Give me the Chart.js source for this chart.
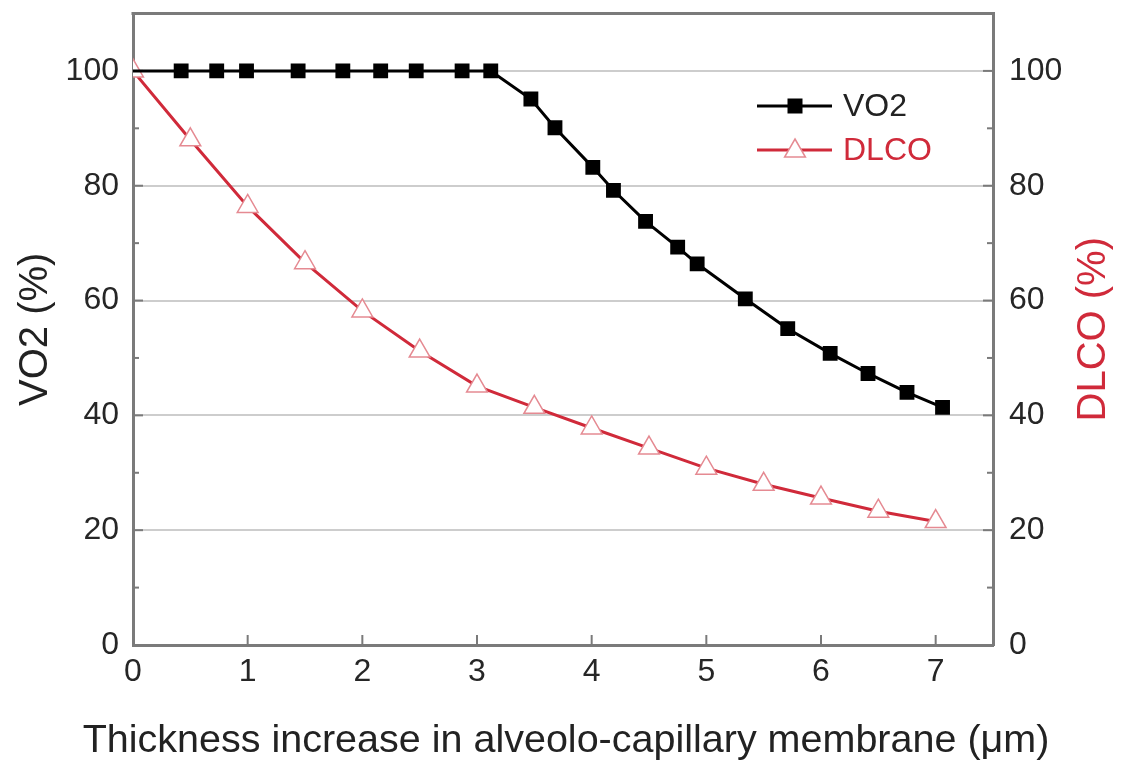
<!DOCTYPE html>
<html>
<head>
<meta charset="utf-8">
<script src="https://cdn.jsdelivr.net/npm/chart.js@4/dist/chart.umd.min.js"></script>
<style>
  html, body { margin: 0; padding: 0; background: #fff; }
  #wrap { width: 1121px; height: 762px; }
</style>
</head>
<body>
<div id="wrap"><canvas id="chart"></canvas></div>
<script>
// Thickness increase (um) and values
const vo2X = [0, 0.42, 0.73, 0.99, 1.44, 1.83, 2.16, 2.47, 2.87, 3.12, 3.47, 3.68, 4.01, 4.19, 4.47, 4.75, 4.92, 5.34, 5.71, 6.08, 6.41, 6.75, 7.06];
const vo2Y = [100, 100, 100, 100, 100, 100, 100, 100, 100, 100, 95.1, 90.1, 83.2, 79.2, 73.8, 69.3, 66.4, 60.3, 55.1, 50.8, 47.3, 44.0, 41.4];
const dlcoX = [0, 0.5, 1, 1.5, 2, 2.5, 3, 3.5, 4, 4.5, 5, 5.5, 6, 6.5, 7];
const dlcoY = [100, 88.0, 76.4, 66.6, 58.2, 51.2, 45.1, 41.4, 37.8, 34.3, 30.8, 28.0, 25.6, 23.3, 21.5];

const xTitle = 'Thickness increase in alveolo-capillary membrane (\u03bcm)';
const leftTitle = 'VO2 (%)';
const rightTitle = 'DLCO (%)';

const FONT = "'Liberation Sans', Arial, Helvetica, sans-serif";
const RED = '#d02a3a';
const PINK = '#e58a92';
const AXIS = '#7a7a7a';

function pts(xs, ys) {
    return xs.map((x, i) => ({ x: x, y: ys[i] }));
}

// frame top line, inward tick marks, legend and the x / right titles
const extras = {
    id: 'extras',
    beforeDatasetsDraw(chart) {
        const ctx = chart.ctx;
        const a = chart.chartArea;
        ctx.save();
        ctx.strokeStyle = AXIS;
        ctx.lineWidth = 3;
        ctx.beginPath();
        ctx.moveTo(a.left - 1.5, a.top);
        ctx.lineTo(a.right + 1.5, a.top);
        ctx.stroke();

        ctx.lineWidth = 2;
        const xs = chart.scales.x;
        xs.ticks.forEach(t => {
            const px = xs.getPixelForValue(t.value);
            ctx.beginPath();
            ctx.moveTo(px, a.bottom);
            ctx.lineTo(px, a.bottom - 10);
            ctx.stroke();
        });
        ['y', 'y2'].forEach(id => {
            const s = chart.scales[id];
            const edge = id === 'y' ? a.left : a.right;
            const dir = id === 'y' ? 1 : -1;
            s.ticks.forEach(t => {
                const py = s.getPixelForValue(t.value);
                ctx.beginPath();
                ctx.moveTo(edge, py);
                ctx.lineTo(edge + dir * 10, py);
                ctx.stroke();
                const my = s.getPixelForValue(t.value + 10);
                if (my > a.top + 2) {
                    ctx.beginPath();
                    ctx.moveTo(edge, my);
                    ctx.lineTo(edge + dir * 6, my);
                    ctx.stroke();
                }
            });
        });
        ctx.restore();
    },
    afterDraw(chart) {
        const ctx = chart.ctx;
        const a = chart.chartArea;
        ctx.save();

        // legend
        const lx0 = 757, lx1 = 832, mx = 795, tx = 843;
        ctx.font = '32px ' + FONT;
        ctx.textBaseline = 'middle';
        ctx.textAlign = 'left';

        let y = 106;
        ctx.strokeStyle = '#000';
        ctx.lineWidth = 3;
        ctx.beginPath(); ctx.moveTo(lx0, y); ctx.lineTo(lx1, y); ctx.stroke();
        ctx.fillStyle = '#000';
        ctx.fillRect(mx - 7.5, y - 7.5, 15, 15);
        ctx.fillStyle = '#222';
        ctx.fillText('VO2', tx, y + 1);

        y = 150;
        ctx.strokeStyle = RED;
        ctx.lineWidth = 3;
        ctx.beginPath(); ctx.moveTo(lx0, y); ctx.lineTo(lx1, y); ctx.stroke();
        ctx.fillStyle = '#fff';
        ctx.strokeStyle = PINK;
        ctx.lineWidth = 1.5;
        ctx.beginPath();
        ctx.moveTo(mx, y - 11);
        ctx.lineTo(mx + 10.4, y + 7);
        ctx.lineTo(mx - 10.4, y + 7);
        ctx.closePath();
        ctx.fill(); ctx.stroke();
        ctx.fillStyle = RED;
        ctx.fillText('DLCO', tx, y + 1);

        // x axis title, wider than the plot so drawn here
        ctx.font = '39.5px ' + FONT;
        ctx.textAlign = 'center';
        ctx.fillStyle = '#222';
        ctx.fillText(xTitle, (a.left + a.right) / 2 + 3, 741);

        // right axis title, reading bottom to top
        const s = chart.scales.y2;
        ctx.font = '40px ' + FONT;
        ctx.fillStyle = RED;
        ctx.translate(s.right - 27, (a.top + a.bottom) / 2);
        ctx.rotate(-Math.PI / 2);
        ctx.fillText(rightTitle, 0, 0);
        ctx.restore();
    }
};

function fixVertical(width) {
    return s => {
        s.width = width;
        s.paddingTop = 0;
        s.paddingBottom = 0;
    };
}

const ctx = document.getElementById('chart').getContext('2d');
const chart = new Chart(ctx, {
    type: 'line',
    data: {
        datasets: [
            {
                label: 'VO2',
                data: pts(vo2X, vo2Y),
                yAxisID: 'y',
                borderColor: '#000',
                borderWidth: 3,
                pointStyle: 'rect',
                pointRadius: vo2X.map(x => x === 0 ? 0 : 10.5),
                pointBackgroundColor: '#000',
                pointBorderColor: '#000',
                pointBorderWidth: 0,
                tension: 0
            },
            {
                label: 'DLCO',
                data: pts(dlcoX, dlcoY),
                yAxisID: 'y2',
                borderColor: RED,
                borderWidth: 3,
                pointStyle: 'triangle',
                pointRadius: 12,
                pointBackgroundColor: '#fff',
                pointBorderColor: PINK,
                pointBorderWidth: 1.5,
                tension: 0
            }
        ]
    },
    options: {
        responsive: true,
        maintainAspectRatio: false,
        animation: false,
        events: [],
        layout: { padding: { top: 10 } },
        plugins: {
            legend: { display: false },
            tooltip: { enabled: false }
        },
        scales: {
            x: {
                type: 'linear',
                min: 0,
                max: 7.5,
                afterFit: s => { s.height = 117; s.paddingLeft = 0; s.paddingRight = 0; },
                grid: { display: false, drawTicks: false },
                border: { display: true, color: AXIS, width: 3 },
                ticks: {
                    stepSize: 1,
                    includeBounds: false,
                    padding: 8,
                    color: '#262626',
                    font: { family: FONT, size: 32 }
                },
                title: { display: false, text: xTitle }
            },
            y: {
                position: 'left',
                min: 0,
                max: 110,
                afterFit: fixVertical(133),
                grid: {
                    drawTicks: false,
                    color: c => (c.tick && c.tick.value === 0) ? 'rgba(0,0,0,0)' : '#cdcdcd',
                    lineWidth: 2
                },
                border: { display: true, color: AXIS, width: 3 },
                ticks: {
                    stepSize: 20,
                    includeBounds: false,
                    padding: 14,
                    color: '#262626',
                    font: { family: FONT, size: 32 }
                },
                title: {
                    display: true,
                    text: leftTitle,
                    color: '#222',
                    padding: { top: 12, bottom: 0 },
                    font: { family: FONT, size: 40 }
                }
            },
            y2: {
                position: 'right',
                min: 0,
                max: 110,
                afterFit: fixVertical(128),
                grid: { display: false, drawTicks: false },
                border: { display: true, color: AXIS, width: 3 },
                ticks: {
                    stepSize: 20,
                    includeBounds: false,
                    padding: 16,
                    color: '#262626',
                    font: { family: FONT, size: 32 }
                }
            }
        }
    },
    plugins: [extras]
});
</script>
</body>
</html>
